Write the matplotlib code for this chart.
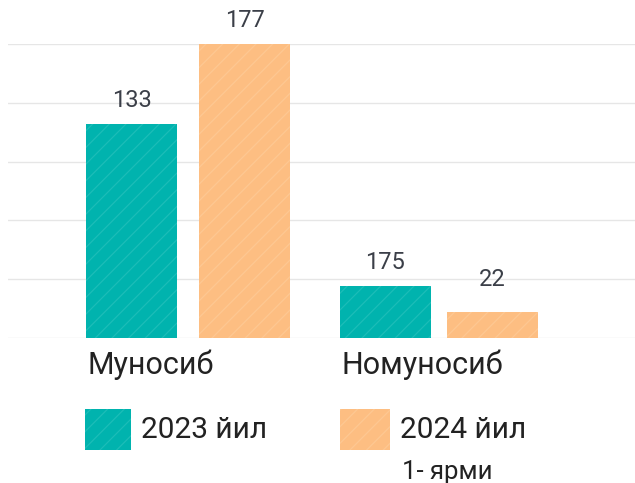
import matplotlib.pyplot as plt
from matplotlib.patches import Rectangle

plt.rcParams['font.family'] = ['Roboto', 'DejaVu Sans']
plt.rcParams['hatch.linewidth'] = 0.9

categories = ['Муносиб', 'Номуносиб']
series_names = ['2023 йил', '2024 йил']
legend_note = '1- ярми'
bar_2023 = [36.4, 8.8]
bar_2024 = [50.0, 4.4]
labels_2023 = ['133', '175']
labels_2024 = ['177', '22']

teal = '#00b3ae'
orange = '#fdbe82'
teal_hatch = '#1cbdb8'
orange_hatch = '#fdc892'

W, H = 635, 483
fig = plt.figure(figsize=(W / 100, H / 100), dpi=100)
# axes placed in pixel terms: left 8, right 635, bottom 338, top 44
ax = fig.add_axes([8 / W, (H - 338) / H, (635 - 8) / W, (338 - 44) / H])

x = [0, 1.003]
offs = [0.226, 0.213]
w = 0.364
b1 = ax.bar([i - o for i, o in zip(x, offs)], bar_2023, w, color=teal,
            edgecolor=teal_hatch, linewidth=0, hatch='//', zorder=3)
b2 = ax.bar([i + o for i, o in zip(x, offs)], bar_2024, w, color=orange,
            edgecolor=orange_hatch, linewidth=0, hatch='//', zorder=3)

for bars, labs in ((b1, labels_2023), (b2, labels_2024)):
    for r, t in zip(bars, labs):
        ax.text(r.get_x() + r.get_width() / 2, max(r.get_height(), 6.0) + 2.0, t,
                ha='center', va='bottom', fontsize=17, color='#3b3f48', clip_on=False)

# category labels, left aligned to the first bar of each group
for r, c in zip(b1, categories):
    ax.text(r.get_x() + 0.004, -4.6, c, ha='left', va='center', fontsize=22,
            color='#222222', clip_on=False)

ax.set_xlim(-0.72, 1.788)
ax.set_ylim(0, 50)
ax.set_yticks(range(0, 51, 10))
ax.grid(axis='y', color='#e6e6e6', linewidth=1, zorder=0)
ax.set_xticks([])
ax.tick_params(axis='y', length=0, labelleft=False)
for s in ax.spines.values():
    s.set_visible(False)

# legend drawn by hand
def swatch(x0, x1, y0, y1, fc, hc):
    fig.patches.append(Rectangle((x0 / W, (H - y1) / H), (x1 - x0) / W, (y1 - y0) / H,
                                 transform=fig.transFigure, facecolor=fc,
                                 edgecolor=hc, linewidth=0, hatch='//'))

swatch(85, 131, 409, 450, teal, teal_hatch)
swatch(340, 390, 409, 450, orange, orange_hatch)
fig.text(141 / W, (H - 430) / H, series_names[0], ha='left', va='center',
         fontsize=21.5, color='#222222')
fig.text(400 / W, (H - 430) / H, series_names[1], ha='left', va='center',
         fontsize=21.5, color='#222222')
fig.text(402 / W, (H - 472) / H, legend_note, ha='left', va='center',
         fontsize=18.5, color='#222222')

fig.savefig('out.png', dpi=100)
